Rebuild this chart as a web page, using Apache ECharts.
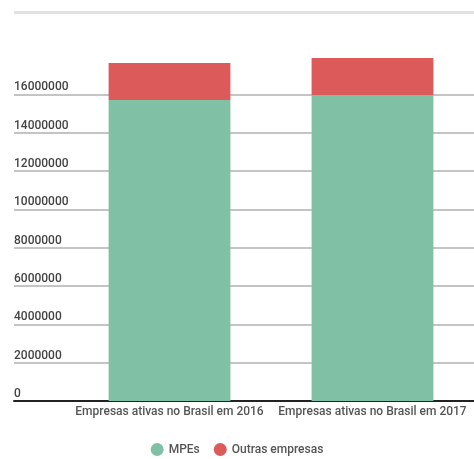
<!DOCTYPE html>
<html><head><meta charset="utf-8">
<script src="https://cdn.jsdelivr.net/npm/echarts@6/dist/echarts.min.js"></script>
<style>html,body{margin:0;padding:0;background:#fff}#c{width:474px;height:459px}</style>
</head><body><div id="c"></div>
<script>
const categories = ['Empresas ativas no Brasil em 2016', 'Empresas ativas no Brasil em 2017'];
const mpes = [15710000, 15970000];
const outras = [1930000, 1930000];
const yMin = 0, yMax = 18000000, yStep = 2000000;

const chart = echarts.init(document.getElementById('c'));
const font = 'Roboto, "Noto Sans", sans-serif';
chart.setOption({
  animation: false,
  textStyle: { fontFamily: font },
  graphic: [{ type: 'rect', shape: { x: 14, y: 11, width: 460, height: 3 }, style: { fill: '#e2e2e2' } }],
  legend: {
    bottom: -2, left: 'center', icon: 'circle', itemWidth: 13, itemHeight: 13, itemGap: 14,
    textStyle: { fontFamily: font, fontSize: 12, color: '#555', fontWeight: 500 },
    data: ['MPEs', 'Outras empresas']
  },
  grid: [
    { left: 14, right: 0, top: 56, bottom: 58, containLabel: false },
    { left: 68, right: 0, top: 56, bottom: 58, containLabel: false }
  ],
  xAxis: [
    { gridIndex: 0, type: 'value', min: 0, max: 1, axisLine: { show: true, onZero: false, lineStyle: { color: '#222', width: 2 } },
      axisTick: { show: false }, axisLabel: { show: false }, splitLine: { show: false } },
    { gridIndex: 1, type: 'category', data: categories, axisLine: { show: false }, axisTick: { show: false },
      axisLabel: { margin: 5, fontSize: 12, color: '#555', fontWeight: 500, interval: 0 } }
  ],
  yAxis: [
    { gridIndex: 0, type: 'value', min: yMin, max: yMax, interval: yStep,
      axisLine: { show: false }, axisTick: { show: false },
      splitLine: { show: true, showMaxLine: false, lineStyle: { color: '#c4c4c4', width: 2 } },
      axisLabel: { inside: true, margin: 0, verticalAlign: 'bottom', padding: [0, 0, 1, 0], showMaxLabel: false,
        fontSize: 12, color: '#444', fontWeight: 500, formatter: v => String(v) } },
    { gridIndex: 1, type: 'value', min: yMin, max: yMax, interval: yStep, show: false, splitLine: { show: false } }
  ],
  series: [
    { name: 'MPEs', type: 'bar', xAxisIndex: 1, yAxisIndex: 1, stack: 't', barWidth: '60%', data: mpes,
      itemStyle: { color: '#80c1a5' } },
    { name: 'Outras empresas', type: 'bar', xAxisIndex: 1, yAxisIndex: 1, stack: 't', barWidth: '60%', data: outras,
      itemStyle: { color: '#dc5a5a' } }
  ]
});
</script></body></html>
